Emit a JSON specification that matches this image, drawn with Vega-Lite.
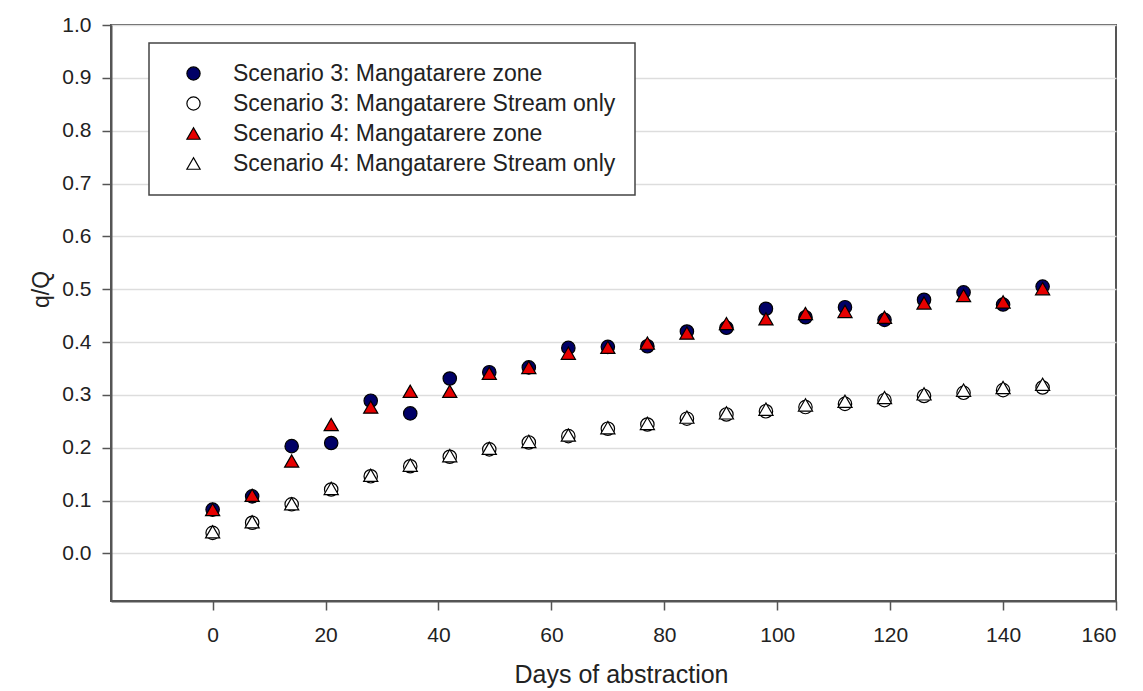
{
  "$schema": "https://vega.github.io/schema/vega-lite/v6.json",
  "width": 1005,
  "height": 576,
  "autosize": {"type": "none"},
  "padding": {"left": 111, "top": 25, "right": 27, "bottom": 90},
  "background": "white",
  "config": {
    "font": "Liberation Sans",
    "view": {"stroke": "#555555", "strokeWidth": 2},
    "axis": {
      "domainColor": "#555555", "domainWidth": 2,
      "tickColor": "#555555", "tickWidth": 1.5, "tickSize": 9,
      "labelFont": "Liberation Sans", "labelFontSize": 21, "labelColor": "#222222",
      "titleFont": "Liberation Sans", "titleFontWeight": "normal", "titleColor": "#222222"
    },
    "legend": {
      "labelFont": "Liberation Sans", "labelFontSize": 23, "labelColor": "#222222",
      "padding": 19, "strokeColor": "#444444", "strokeWidth": 1.5, "fillColor": "white",
      "symbolSize": 175, "symbolStrokeWidth": 1.2,
      "symbolOffset": 14, "labelOffset": 28, "rowPadding": 6, "labelLimit": 600
    }
  },
  "data": {"values": [
    {"series": "Scenario 3: Mangatarere zone", "day": 0, "q": 0.083},
    {"series": "Scenario 3: Mangatarere zone", "day": 7, "q": 0.108},
    {"series": "Scenario 3: Mangatarere zone", "day": 14, "q": 0.203},
    {"series": "Scenario 3: Mangatarere zone", "day": 21, "q": 0.209},
    {"series": "Scenario 3: Mangatarere zone", "day": 28, "q": 0.289},
    {"series": "Scenario 3: Mangatarere zone", "day": 35, "q": 0.265},
    {"series": "Scenario 3: Mangatarere zone", "day": 42, "q": 0.331},
    {"series": "Scenario 3: Mangatarere zone", "day": 49, "q": 0.343},
    {"series": "Scenario 3: Mangatarere zone", "day": 56, "q": 0.352},
    {"series": "Scenario 3: Mangatarere zone", "day": 63, "q": 0.389},
    {"series": "Scenario 3: Mangatarere zone", "day": 70, "q": 0.391},
    {"series": "Scenario 3: Mangatarere zone", "day": 77, "q": 0.392},
    {"series": "Scenario 3: Mangatarere zone", "day": 84, "q": 0.420},
    {"series": "Scenario 3: Mangatarere zone", "day": 91, "q": 0.427},
    {"series": "Scenario 3: Mangatarere zone", "day": 98, "q": 0.463},
    {"series": "Scenario 3: Mangatarere zone", "day": 105, "q": 0.447},
    {"series": "Scenario 3: Mangatarere zone", "day": 112, "q": 0.466},
    {"series": "Scenario 3: Mangatarere zone", "day": 119, "q": 0.442},
    {"series": "Scenario 3: Mangatarere zone", "day": 126, "q": 0.480},
    {"series": "Scenario 3: Mangatarere zone", "day": 133, "q": 0.494},
    {"series": "Scenario 3: Mangatarere zone", "day": 140, "q": 0.471},
    {"series": "Scenario 3: Mangatarere zone", "day": 147, "q": 0.505},
    {"series": "Scenario 3: Mangatarere Stream only", "day": 0, "q": 0.039},
    {"series": "Scenario 3: Mangatarere Stream only", "day": 7, "q": 0.058},
    {"series": "Scenario 3: Mangatarere Stream only", "day": 14, "q": 0.093},
    {"series": "Scenario 3: Mangatarere Stream only", "day": 21, "q": 0.121},
    {"series": "Scenario 3: Mangatarere Stream only", "day": 28, "q": 0.146},
    {"series": "Scenario 3: Mangatarere Stream only", "day": 35, "q": 0.165},
    {"series": "Scenario 3: Mangatarere Stream only", "day": 42, "q": 0.183},
    {"series": "Scenario 3: Mangatarere Stream only", "day": 49, "q": 0.197},
    {"series": "Scenario 3: Mangatarere Stream only", "day": 56, "q": 0.210},
    {"series": "Scenario 3: Mangatarere Stream only", "day": 63, "q": 0.222},
    {"series": "Scenario 3: Mangatarere Stream only", "day": 70, "q": 0.236},
    {"series": "Scenario 3: Mangatarere Stream only", "day": 77, "q": 0.244},
    {"series": "Scenario 3: Mangatarere Stream only", "day": 84, "q": 0.255},
    {"series": "Scenario 3: Mangatarere Stream only", "day": 91, "q": 0.263},
    {"series": "Scenario 3: Mangatarere Stream only", "day": 98, "q": 0.269},
    {"series": "Scenario 3: Mangatarere Stream only", "day": 105, "q": 0.277},
    {"series": "Scenario 3: Mangatarere Stream only", "day": 112, "q": 0.283},
    {"series": "Scenario 3: Mangatarere Stream only", "day": 119, "q": 0.290},
    {"series": "Scenario 3: Mangatarere Stream only", "day": 126, "q": 0.298},
    {"series": "Scenario 3: Mangatarere Stream only", "day": 133, "q": 0.304},
    {"series": "Scenario 3: Mangatarere Stream only", "day": 140, "q": 0.309},
    {"series": "Scenario 3: Mangatarere Stream only", "day": 147, "q": 0.314},
    {"series": "Scenario 4: Mangatarere zone", "day": 0, "q": 0.083},
    {"series": "Scenario 4: Mangatarere zone", "day": 7, "q": 0.110},
    {"series": "Scenario 4: Mangatarere zone", "day": 14, "q": 0.175},
    {"series": "Scenario 4: Mangatarere zone", "day": 21, "q": 0.244},
    {"series": "Scenario 4: Mangatarere zone", "day": 28, "q": 0.277},
    {"series": "Scenario 4: Mangatarere zone", "day": 35, "q": 0.307},
    {"series": "Scenario 4: Mangatarere zone", "day": 42, "q": 0.307},
    {"series": "Scenario 4: Mangatarere zone", "day": 49, "q": 0.341},
    {"series": "Scenario 4: Mangatarere zone", "day": 56, "q": 0.352},
    {"series": "Scenario 4: Mangatarere zone", "day": 63, "q": 0.379},
    {"series": "Scenario 4: Mangatarere zone", "day": 70, "q": 0.390},
    {"series": "Scenario 4: Mangatarere zone", "day": 77, "q": 0.398},
    {"series": "Scenario 4: Mangatarere zone", "day": 84, "q": 0.417},
    {"series": "Scenario 4: Mangatarere zone", "day": 91, "q": 0.435},
    {"series": "Scenario 4: Mangatarere zone", "day": 98, "q": 0.444},
    {"series": "Scenario 4: Mangatarere zone", "day": 105, "q": 0.454},
    {"series": "Scenario 4: Mangatarere zone", "day": 112, "q": 0.458},
    {"series": "Scenario 4: Mangatarere zone", "day": 119, "q": 0.447},
    {"series": "Scenario 4: Mangatarere zone", "day": 126, "q": 0.474},
    {"series": "Scenario 4: Mangatarere zone", "day": 133, "q": 0.488},
    {"series": "Scenario 4: Mangatarere zone", "day": 140, "q": 0.476},
    {"series": "Scenario 4: Mangatarere zone", "day": 147, "q": 0.501},
    {"series": "Scenario 4: Mangatarere Stream only", "day": 0, "q": 0.041},
    {"series": "Scenario 4: Mangatarere Stream only", "day": 7, "q": 0.060},
    {"series": "Scenario 4: Mangatarere Stream only", "day": 14, "q": 0.094},
    {"series": "Scenario 4: Mangatarere Stream only", "day": 21, "q": 0.123},
    {"series": "Scenario 4: Mangatarere Stream only", "day": 28, "q": 0.148},
    {"series": "Scenario 4: Mangatarere Stream only", "day": 35, "q": 0.167},
    {"series": "Scenario 4: Mangatarere Stream only", "day": 42, "q": 0.185},
    {"series": "Scenario 4: Mangatarere Stream only", "day": 49, "q": 0.199},
    {"series": "Scenario 4: Mangatarere Stream only", "day": 56, "q": 0.212},
    {"series": "Scenario 4: Mangatarere Stream only", "day": 63, "q": 0.224},
    {"series": "Scenario 4: Mangatarere Stream only", "day": 70, "q": 0.238},
    {"series": "Scenario 4: Mangatarere Stream only", "day": 77, "q": 0.246},
    {"series": "Scenario 4: Mangatarere Stream only", "day": 84, "q": 0.258},
    {"series": "Scenario 4: Mangatarere Stream only", "day": 91, "q": 0.266},
    {"series": "Scenario 4: Mangatarere Stream only", "day": 98, "q": 0.273},
    {"series": "Scenario 4: Mangatarere Stream only", "day": 105, "q": 0.281},
    {"series": "Scenario 4: Mangatarere Stream only", "day": 112, "q": 0.288},
    {"series": "Scenario 4: Mangatarere Stream only", "day": 119, "q": 0.295},
    {"series": "Scenario 4: Mangatarere Stream only", "day": 126, "q": 0.302},
    {"series": "Scenario 4: Mangatarere Stream only", "day": 133, "q": 0.309},
    {"series": "Scenario 4: Mangatarere Stream only", "day": 140, "q": 0.314},
    {"series": "Scenario 4: Mangatarere Stream only", "day": 147, "q": 0.320}
  ]},
  "mark": {"type": "point", "filled": true, "strokeWidth": 1.2, "opacity": 1},
  "encoding": {
    "x": {
      "field": "day", "type": "quantitative",
      "scale": {"domain": [-18, 160], "nice": false, "zero": false},
      "axis": {
        "values": [0, 20, 40, 60, 80, 100, 120, 140, 160],
        "grid": false, "labelPadding": 14,
        "title": "Days of abstraction", "titleFontSize": 25,
        "titleX": 510, "titleY": 81, "titleBaseline": "alphabetic", "titleAlign": "center"
      }
    },
    "y": {
      "field": "q", "type": "quantitative",
      "scale": {"domain": [-0.09, 1.0], "nice": false, "zero": false},
      "axis": {
        "values": [0, 0.1, 0.2, 0.3, 0.4, 0.5, 0.6, 0.7, 0.8, 0.9, 1.0],
        "format": ".1f", "grid": true, "gridColor": "#dddddd", "gridWidth": 1.5,
        "labelPadding": 11,
        "title": "q/Q", "titleFontSize": 23, "titleAngle": -90,
        "titleX": -70, "titleY": 264, "titleAlign": "center", "titleBaseline": "middle"
      }
    },
    "fill": {
      "field": "series", "type": "nominal",
      "scale": {
        "domain": ["Scenario 3: Mangatarere zone", "Scenario 3: Mangatarere Stream only", "Scenario 4: Mangatarere zone", "Scenario 4: Mangatarere Stream only"],
        "range": ["#000066", "#ffffff", "#e60000", "#ffffff"]
      },
      "legend": {"title": null, "orient": "none", "legendX": 38, "legendY": 18}
    },
    "stroke": {
      "field": "series", "type": "nominal",
      "scale": {
        "domain": ["Scenario 3: Mangatarere zone", "Scenario 3: Mangatarere Stream only", "Scenario 4: Mangatarere zone", "Scenario 4: Mangatarere Stream only"],
        "range": ["#000000", "#000000", "#000000", "#000000"]
      },
      "legend": {"title": null, "orient": "none", "legendX": 38, "legendY": 18}
    },
    "shape": {
      "field": "series", "type": "nominal",
      "scale": {
        "domain": ["Scenario 3: Mangatarere zone", "Scenario 3: Mangatarere Stream only", "Scenario 4: Mangatarere zone", "Scenario 4: Mangatarere Stream only"],
        "range": ["circle", "circle", "triangle-up", "triangle-up"]
      },
      "legend": {"title": null, "orient": "none", "legendX": 38, "legendY": 18}
    },
    "size": {
      "condition": {"test": "indexof(datum.series, 'Scenario 4') === 0", "value": 200},
      "value": 180
    }
  }
}
